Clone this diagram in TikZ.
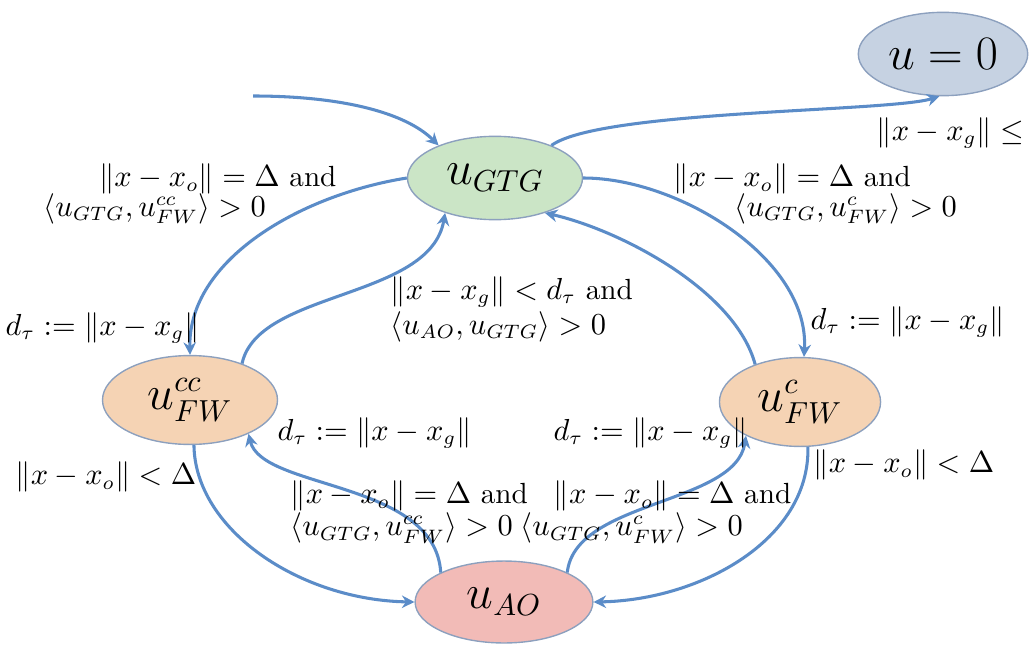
\documentclass[tikz,border=0pt]{standalone}
\usepackage{amsmath,amssymb}
\usetikzlibrary{shapes.geometric,arrows.meta}
\definecolor{edgeblue}{RGB}{91,140,200}
\definecolor{rimgrey}{RGB}{140,160,190}
\definecolor{zerofill}{RGB}{198,210,226}
\definecolor{gtgfill}{RGB}{203,229,198}
\definecolor{fwfill}{RGB}{245,211,180}
\definecolor{aofill}{RGB}{242,187,183}
\begin{document}
\begin{tikzpicture}[x=0.36pt, y=-0.36pt,
  state/.style={ellipse, draw=rimgrey, line width=0.5pt, inner sep=0pt, font=\fontsize{16}{19}\selectfont},
  trans/.style={draw=edgeblue, line width=1.1pt, -{Stealth[length=4.5pt,width=4.5pt]}},
  lbl/.style={inner sep=0pt, align=left, anchor=west, font=\fontsize{10.5}{12.6}\selectfont}]
\useasboundingbox (0,0) rectangle (1031,646);
\clip (0,0) rectangle (1031,646);
\node[state, fill=zerofill, minimum width=61pt, minimum height=30pt] (zero) at (943,54) {$u=0$};
\node[state, fill=gtgfill, minimum width=63pt, minimum height=30pt] (gtg) at (495,178) {$u_{GTG}$};
\node[state, fill=fwfill, minimum width=63pt, minimum height=32pt] (fwcc) at (190,400) {$u_{FW}^{cc}$};
\node[state, fill=fwfill, minimum width=58pt, minimum height=32pt] (fwc) at (800,402) {$u_{FW}^{c}$};
\node[state, fill=aofill, minimum width=64pt, minimum height=29.5pt] (ao) at (504,602) {$u_{AO}$};
\coordinate (entry) at (253,96);
\draw[trans] (entry) .. controls (340,96) and (405,112) .. (gtg.150);
\draw[trans] (gtg.30) .. controls (600,110) and (890,112) .. (zero.265);
\draw[trans] (gtg.0) .. controls (680,178) and (810,260) .. (fwc.85);
\draw[trans] (gtg.180) .. controls (300,195) and (188,260) .. (fwcc.90);
\draw[trans] (fwcc.35) .. controls (258,290) and (430,300) .. (gtg.215);
\draw[trans] (fwc.140) .. controls (735,290) and (620,230) .. (gtg.325);
\draw[trans] (fwcc.275) .. controls (195,530) and (300,600) .. (ao.180);
\draw[trans] (fwc.280) .. controls (810,540) and (700,600) .. (ao.0);
\draw[trans] (ao.155) .. controls (435,480) and (262,490) .. (fwcc.330);
\draw[trans] (ao.25) .. controls (575,500) and (735,505) .. (fwc.212);
\node[lbl] (stop) at (876,133) {$\|x-x_g\|\le\epsilon$};
\node[lbl] (leavecc) at (43,194) {\hspace*{20pt}$\|x-x_o\|=\Delta$ and\\[-2pt]$\langle u_{GTG},u_{FW}^{cc}\rangle>0$};
\node[lbl] (leavec) at (673,194) {$\|x-x_o\|=\Delta$ and\\[-2pt]\hspace*{22pt}$\langle u_{GTG},u_{FW}^{c}\rangle>0$};
\node[lbl] (setcc) at (5,328) {$d_\tau:=\|x-x_g\|$};
\node[lbl] (setc) at (810,322) {$d_\tau:=\|x-x_g\|$};
\node[lbl] (back) at (390,309) {$\|x-x_g\|<d_\tau$ and\\$\langle u_{AO},u_{GTG}\rangle>0$};
\node[lbl] (nearcc) at (15,477) {$\|x-x_o\|<\Delta$};
\node[lbl] (nearc) at (813,465) {$\|x-x_o\|<\Delta$};
\node[lbl] (aosetcc) at (277,433) {$d_\tau:=\|x-x_g\|$};
\node[lbl] (aosetc) at (553,433) {$d_\tau:=\|x-x_g\|$};
\node[lbl] (aocc) at (290,512) {$\|x-x_o\|=\Delta$ and\\[-1pt]$\langle u_{GTG},u_{FW}^{cc}\rangle>0$};
\node[lbl] (aoc) at (520,512) {\hspace*{12pt}$\|x-x_o\|=\Delta$ and\\[-1pt]$\langle u_{GTG},u_{FW}^{c}\rangle>0$};
\end{tikzpicture}
\end{document}
